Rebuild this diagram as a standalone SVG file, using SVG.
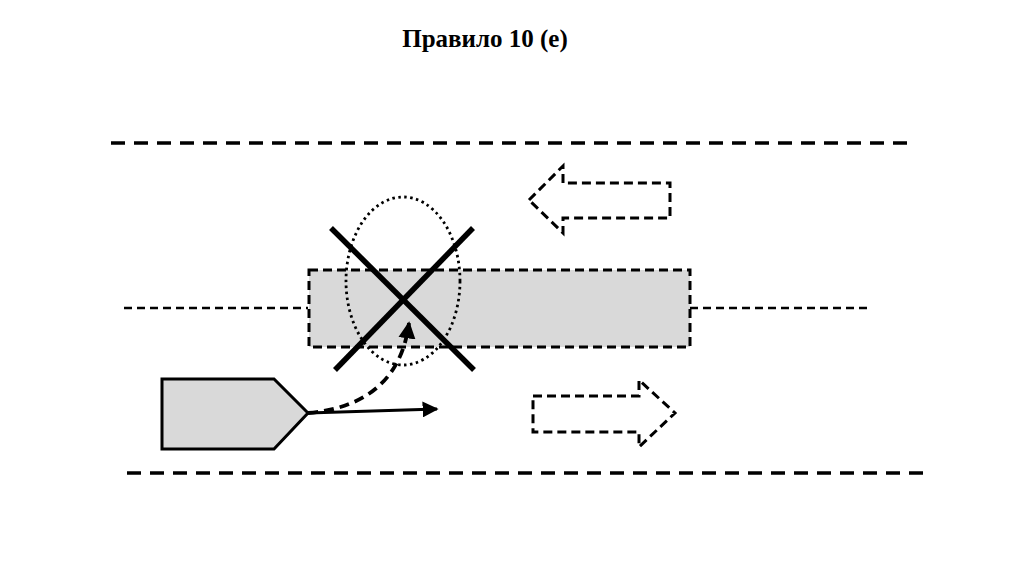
<svg xmlns="http://www.w3.org/2000/svg" width="1024" height="574" viewBox="0 0 1024 574">
<defs>
<style>
.lane{fill:none;stroke:#000;stroke-width:3.5;stroke-dasharray:14 9}
.axis{fill:none;stroke:#000;stroke-width:2.6;stroke-dasharray:8 5}
.dash{fill:none;stroke:#000;stroke-width:3;stroke-dasharray:9 5}
.cross{stroke:#000;stroke-width:5.5;stroke-linecap:butt}
</style>
<marker id="ah" viewBox="0 0 10 10" refX="9" refY="5" markerWidth="5" markerHeight="5" orient="auto" markerUnits="strokeWidth">
<path d="M0,0 L10,5 L0,10 Z" fill="#000"/>
</marker>
<marker id="ah2" viewBox="0 0 10 10" refX="9" refY="5" markerWidth="4.5" markerHeight="5" orient="auto" markerUnits="strokeWidth">
<path d="M0,0 L10,5 L0,10 Z" fill="#000"/>
</marker>
</defs>
<rect width="1024" height="574" fill="#fff"/>
<text x="485" y="47" text-anchor="middle" font-family="Liberation Serif, serif" font-weight="bold" font-size="25">Правило 10 (е)</text>
<g id="lanes">
<line class="lane" x1="111" y1="143" x2="912" y2="143"/>
<line class="lane" x1="127" y1="473" x2="926" y2="473"/>
<line class="axis" x1="124" y1="308" x2="308" y2="308"/>
<line class="axis" x1="690" y1="308" x2="872" y2="308"/>
</g>
<g id="vessel-long">
<rect x="309" y="270" width="381" height="77" class="dash" style="fill:#d9d9d9"/>
</g>
<g id="zone">
<ellipse cx="403" cy="281" rx="57" ry="84" fill="none" stroke="#000" stroke-width="2.8" stroke-dasharray="2.5 3.5"/>
</g>
<g id="cross">
<line class="cross" x1="331" y1="228" x2="474" y2="370"/>
<line class="cross" x1="473" y1="228" x2="335" y2="370"/>
</g>
<g id="vessel-small">
<polygon points="162,379 274,379 308,413 274,449 162,449" fill="#d9d9d9" stroke="#000" stroke-width="3"/>
</g>
<g id="arrow-left">
<polygon points="529,200 563,166 563,183 670,183 670,218 563,218 563,233" class="dash"/>
</g>
<g id="arrow-right">
<polygon points="533,396 639,396 639,380 675,413 639,447 639,432 533,432" class="dash"/>
</g>
<g id="connectors">
<line x1="308" y1="413" x2="437" y2="409" stroke="#000" stroke-width="3.2" marker-end="url(#ah)"/>
<path d="M308,413 Q398,405 409,323" fill="none" stroke="#000" stroke-width="3.8" stroke-dasharray="10 6" marker-end="url(#ah2)"/>
</g>
</svg>
